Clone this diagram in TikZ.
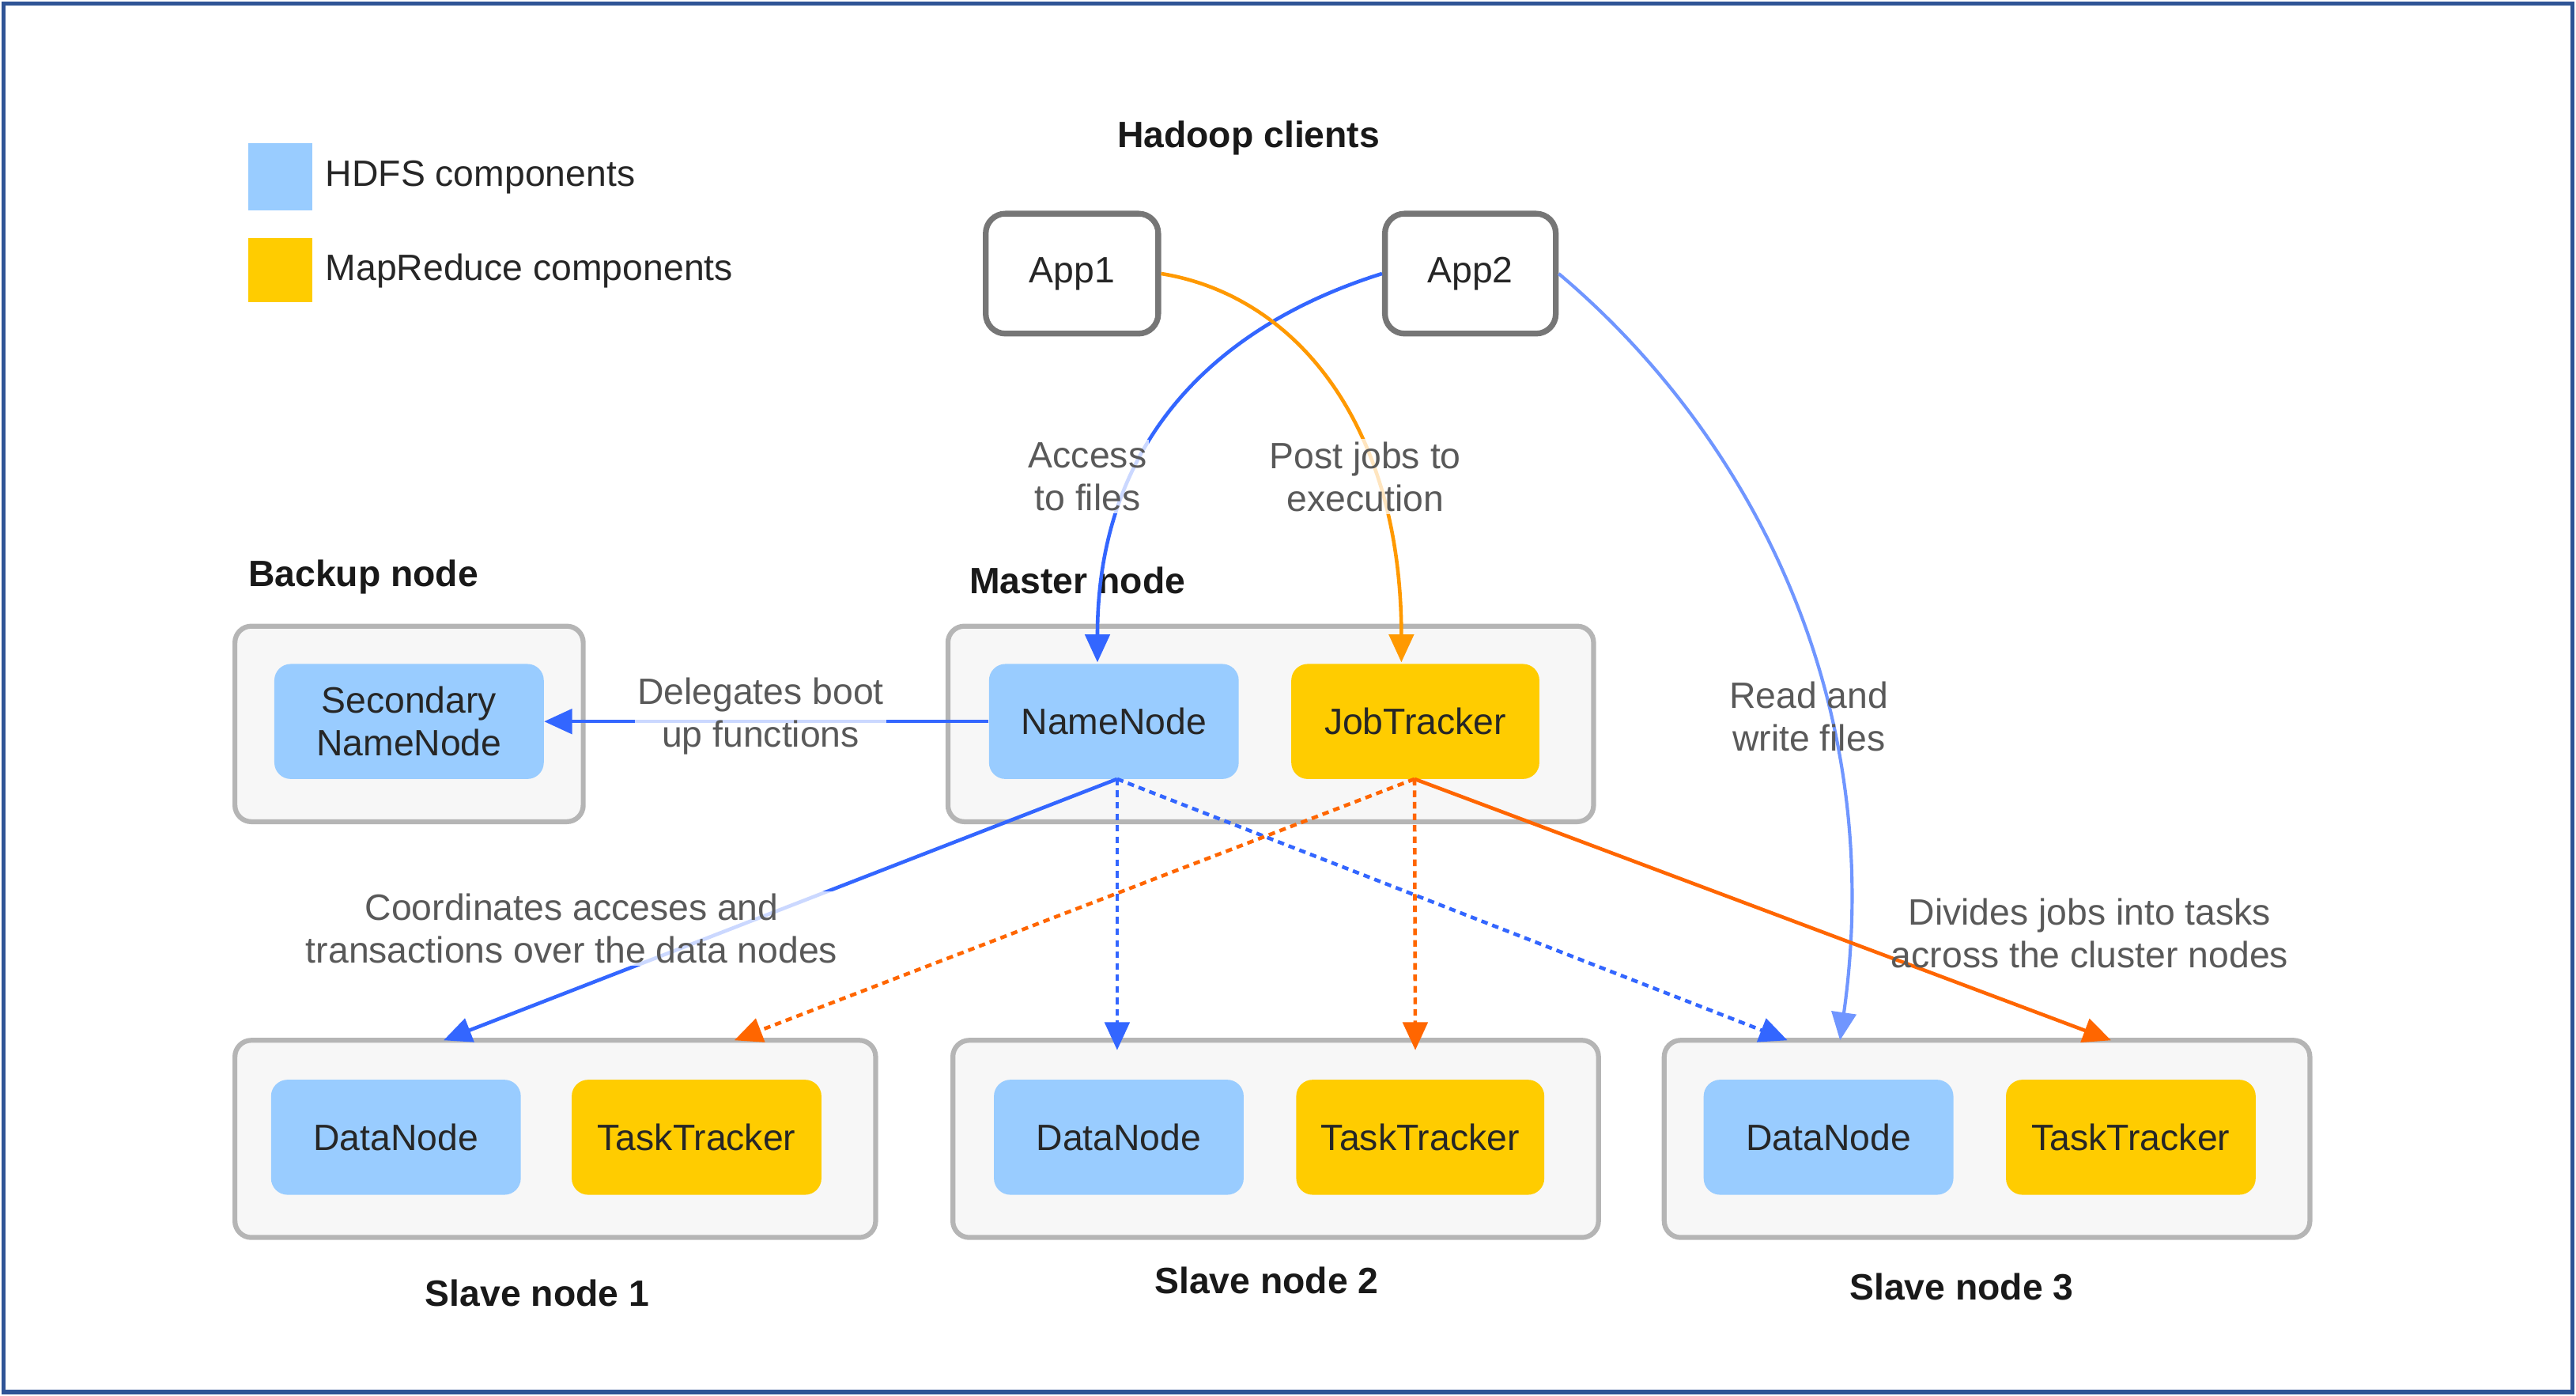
\documentclass[tikz,border=0pt]{standalone}
\usepackage{fontspec}
\setmainfont{Liberation Sans}
\usetikzlibrary{arrows.meta,calc}
\definecolor{hdfs}{HTML}{99CCFF}
\definecolor{mapred}{HTML}{FFCC00}
\definecolor{framec}{HTML}{2F5496}
\definecolor{cbord}{HTML}{B5B5B5}
\definecolor{cfill}{HTML}{F7F7F7}
\definecolor{appbord}{HTML}{767676}
\definecolor{ablue}{HTML}{3366FF}
\definecolor{lblue}{HTML}{7096FF}
\definecolor{aorange}{HTML}{FF6600}
\definecolor{jorange}{HTML}{FF9900}
\definecolor{notegray}{HTML}{595959}
\begin{document}
\begin{tikzpicture}[x=1pt,y=-1pt,
  font=\fontsize{22.3}{26}\selectfont,
  cont/.style={draw=cbord,line width=3pt,fill=cfill,rounded corners=10pt,inner sep=0pt},
  comp/.style={rounded corners=10pt,inner sep=0pt,align=center,text=black!85,minimum height=70pt},
  hdfsbox/.style={comp,fill=hdfs},
  mrbox/.style={comp,fill=mapred},
  appbox/.style={draw=appbord,line width=3.5pt,fill=white,rounded corners=12pt,inner sep=0pt,text=black!85},
  note/.style={text=notegray,align=center,inner sep=1.5pt,fill=white,fill opacity=0.75,text opacity=1},
  plainnote/.style={text=notegray,align=center,inner sep=1.5pt},
  ttl/.style={font=\fontsize{22.3}{26}\selectfont\bfseries,text=black!90,inner sep=0pt},
  tip/.style={-{Triangle[length=17pt,width=15pt]}},
  bluearr/.style={tip,draw=ablue,line width=2.2pt},
  orangearr/.style={tip,draw=aorange,line width=2.2pt},
  dashpat/.style={dash pattern=on 4pt off 3pt}
]
\useasboundingbox (0,0) rectangle (1568,849);
\draw[framec,line width=2.5pt] (2,2) rectangle (1566,847);

% legend
\node[fill=hdfs,minimum width=39pt,minimum height=41pt,inner sep=0pt] (lgh) at (170.5,107.5) {};
\node[anchor=west,inner sep=0pt,text=black!85] (lght) at (198,108) {HDFS components};
\node[fill=mapred,minimum width=39pt,minimum height=39pt,inner sep=0pt] (lgm) at (170.5,164.5) {};
\node[anchor=west,inner sep=0pt,text=black!85] (lgmt) at (198,165) {MapReduce components};

% titles
\node[ttl] (thc) at (760,84) {Hadoop clients};
\node[ttl,anchor=west] (tbk) at (151,351) {Backup node};
\node[ttl,anchor=west] (tms) at (590,353) {Master node};
\node[ttl] (ts1) at (327,787) {Slave node 1};
\node[ttl] (ts2) at (771,779) {Slave node 2};
\node[ttl] (ts3) at (1194,783) {Slave node 3};

% apps
\node[appbox,minimum width=105pt,minimum height=73pt] (app1) at (652.5,166.5) {App1};
\node[appbox,minimum width=104pt,minimum height=73pt] (app2) at (895,166.5) {App2};

% containers
\node[cont,minimum width=212pt,minimum height=119pt] (bk) at (249,440.5) {};
\node[cont,minimum width=393pt,minimum height=119pt] (ms) at (773.5,440.5) {};
\node[cont,minimum width=390pt,minimum height=120pt] (s1) at (338,693) {};
\node[cont,minimum width=393pt,minimum height=120pt] (s2) at (776.5,693) {};
\node[cont,minimum width=393pt,minimum height=120pt] (s3) at (1209.5,693) {};

% components
\node[hdfsbox,minimum width=164pt] (snn) at (249,439) {Secondary\\NameNode};
\node[hdfsbox,minimum width=152pt] (nn) at (678,439) {NameNode};
\node[mrbox,minimum width=151pt] (jt) at (861.5,439) {JobTracker};
\node[hdfsbox,minimum width=152pt] (dn1) at (241,692) {DataNode};
\node[mrbox,minimum width=152pt] (tt1) at (424,692) {TaskTracker};
\node[hdfsbox,minimum width=152pt] (dn2) at (681,692) {DataNode};
\node[mrbox,minimum width=151pt] (tt2) at (864.5,692) {TaskTracker};
\node[hdfsbox,minimum width=152pt] (dn3) at (1113,692) {DataNode};
\node[mrbox,minimum width=152pt] (tt3) at (1297,692) {TaskTracker};

% arrow end points on container tops
\coordinate (nnin) at (668,403);
\coordinate (jtin) at (853,403);
\coordinate (s1a) at (270,633);
\coordinate (s1b) at (447,633);
\coordinate (s2a) at (680,639);
\coordinate (s2b) at (861.5,639);
\coordinate (s3a) at (1088,633);
\coordinate (s3b) at (1120,633);
\coordinate (s3c) at (1285,633);
\coordinate (nnout) at (680,474);
\coordinate (jtout) at (861,474);

% client arrows
\draw[bluearr] (app2.west) .. controls (750,195) and (668,260) .. (nnin);
\draw[tip,draw=jorange,line width=2.2pt] (app1.east) .. controls (790,180) and (853,260) .. (jtin);
\draw[tip,draw=lblue,line width=2pt] (app2.east) .. controls (1060,260) and (1150,420) .. (s3b);

% namenode -> secondary
\draw[bluearr] (nn.west) -- (snn.east);

% namenode -> datanodes
\draw[bluearr] (nnout) -- (s1a);
\draw[bluearr,dashpat] (nnout) -- (s2a);
\draw[bluearr,dashpat] (nnout) -- (s3a);

% jobtracker -> tasktrackers
\draw[orangearr,dashpat] (jtout) -- (s1b);
\draw[orangearr,dashpat] (jtout) -- (s2b);
\draw[orangearr] (jtout) -- (s3c);

% annotations
\node[note] (l1) at (662,290) {Access\\to files};
\node[note] (l2) at (831,290) {Post jobs to\\execution};
\node[note] (l3) at (463,436) {Delegates boot\\up functions};
\node[plainnote] (l4) at (1101,436) {Read and\\write files};
\node[note] (l5) at (348,565) {Coordinates acceses and\\transactions over the data nodes};
\node[plainnote] (l6) at (1272,568) {Divides jobs into tasks\\across the cluster nodes};
\end{tikzpicture}
\end{document}
